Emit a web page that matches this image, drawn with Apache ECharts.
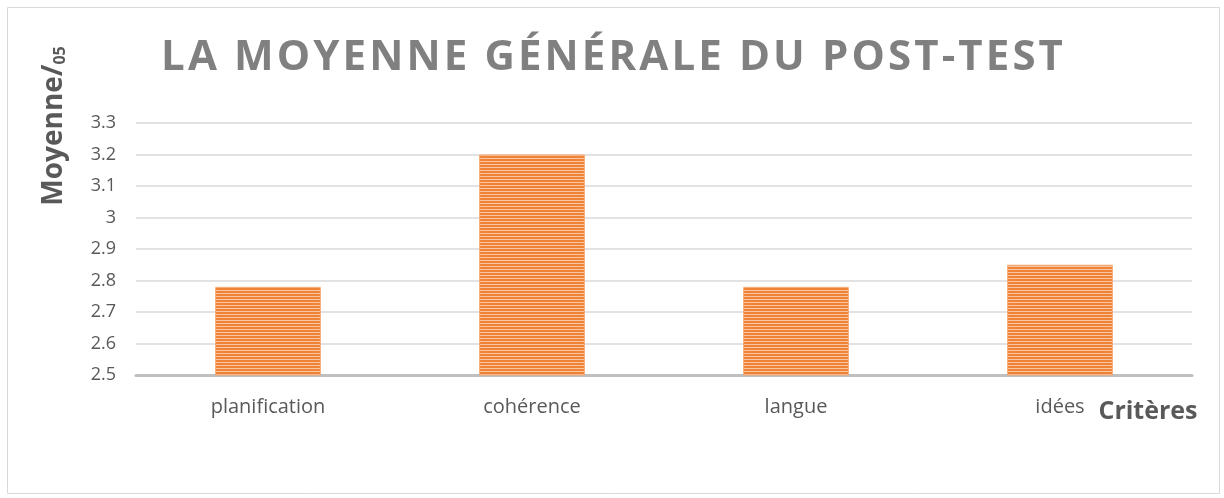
<!DOCTYPE html>
<html><head><meta charset="utf-8">
<script src="https://cdn.jsdelivr.net/npm/echarts@6/dist/echarts.min.js"></script>
<style>html,body{margin:0;padding:0;background:#fff}#c{width:1224px;height:498px}</style>
</head><body><div id="c"></div>
<script>
const categories = ['planification', 'cohérence', 'langue', 'idées'];
const values = [2.78, 3.2, 2.78, 2.85];
const yTicks = [2.5, 2.6, 2.7, 2.8, 2.9, 3, 3.1, 3.2, 3.3];
const titleText = 'LA MOYENNE GÉNÉRALE DU POST-TEST';

const FONT = '"Open Sans", sans-serif';
const TITLE_SIZE = 42, TITLE_WEIGHT = 'bold', TITLE_WIDTH = 905;

// letter spacing for the title via per-character rich tokens
const mc = document.createElement('canvas').getContext('2d');
mc.font = TITLE_WEIGHT + ' ' + TITLE_SIZE + 'px ' + FONT;
const natural = mc.measureText(titleText).width;
const pad = Math.max(0, (TITLE_WIDTH - natural) / titleText.length / 2);
const titleRich = titleText.split('').map(ch => '{c|' + ch + '}').join('');

const pc = document.createElement('canvas');
pc.width = 4; pc.height = 3;
const g = pc.getContext('2d');
g.fillStyle = '#EF8236'; g.fillRect(0, 0, 4, 2);
g.fillStyle = '#F9C7A2'; g.fillRect(0, 2, 4, 1);

const chart = echarts.init(document.getElementById('c'));
chart.setOption({
  animation: false,
  title: {
    text: titleRich,
    left: 'center', top: 32,
    textStyle: {
      rich: { c: { fontFamily: FONT, fontWeight: TITLE_WEIGHT, fontSize: TITLE_SIZE, color: '#808080', padding: [0, pad, 0, pad] } }
    }
  },
  grid: { left: 136, right: 32, top: 123, bottom: 123 },
  xAxis: {
    type: 'category', data: categories,
    axisLine: { lineStyle: { color: '#BFBFBF', width: 3 } },
    axisTick: { show: false },
    axisLabel: { fontFamily: FONT, fontSize: 20, color: '#595959', margin: 22 }
  },
  yAxis: {
    type: 'value', min: 2.5, max: 3.3, interval: 0.1,
    axisLine: { show: false }, axisTick: { show: false },
    splitLine: { lineStyle: { color: '#D9D9D9', width: 1.5 } },
    axisLabel: {
      fontFamily: FONT, fontSize: 18, color: '#595959', margin: 20,
      formatter: v => { const t = yTicks.find(x => Math.abs(x - v) < 1e-6); return t === undefined ? '' : String(t); }
    }
  },
  series: [{
    type: 'bar', data: values, barWidth: '40%',
    itemStyle: { color: { image: pc, repeat: 'repeat' }, borderColor: '#F4A66E', borderWidth: 1 }
  }],
  graphic: [
    { type: 'rect', shape: { x: 7.5, y: 7.5, width: 1212, height: 486 },
      style: { fill: 'none', stroke: '#D9D9D9', lineWidth: 1 }, z: -1 },
    { type: 'text', x: 54, y: 126, rotation: Math.PI / 2,
      style: { text: '{a|Moyenne/}{b|05}', align: 'center', verticalAlign: 'middle',
        rich: { a: { fontFamily: FONT, fontWeight: 'bold', fontSize: 28, fill: '#595959', color: '#595959' },
                b: { fontFamily: FONT, fontWeight: 'bold', fontSize: 16, fill: '#595959', color: '#595959', verticalAlign: 'bottom' } } } },
    { type: 'text', x: 1148, y: 412,
      style: { text: 'Critères', align: 'center', verticalAlign: 'middle',
        font: 'bold 25px "Open Sans", sans-serif', fill: '#595959' } }
  ]
});
</script></body></html>
